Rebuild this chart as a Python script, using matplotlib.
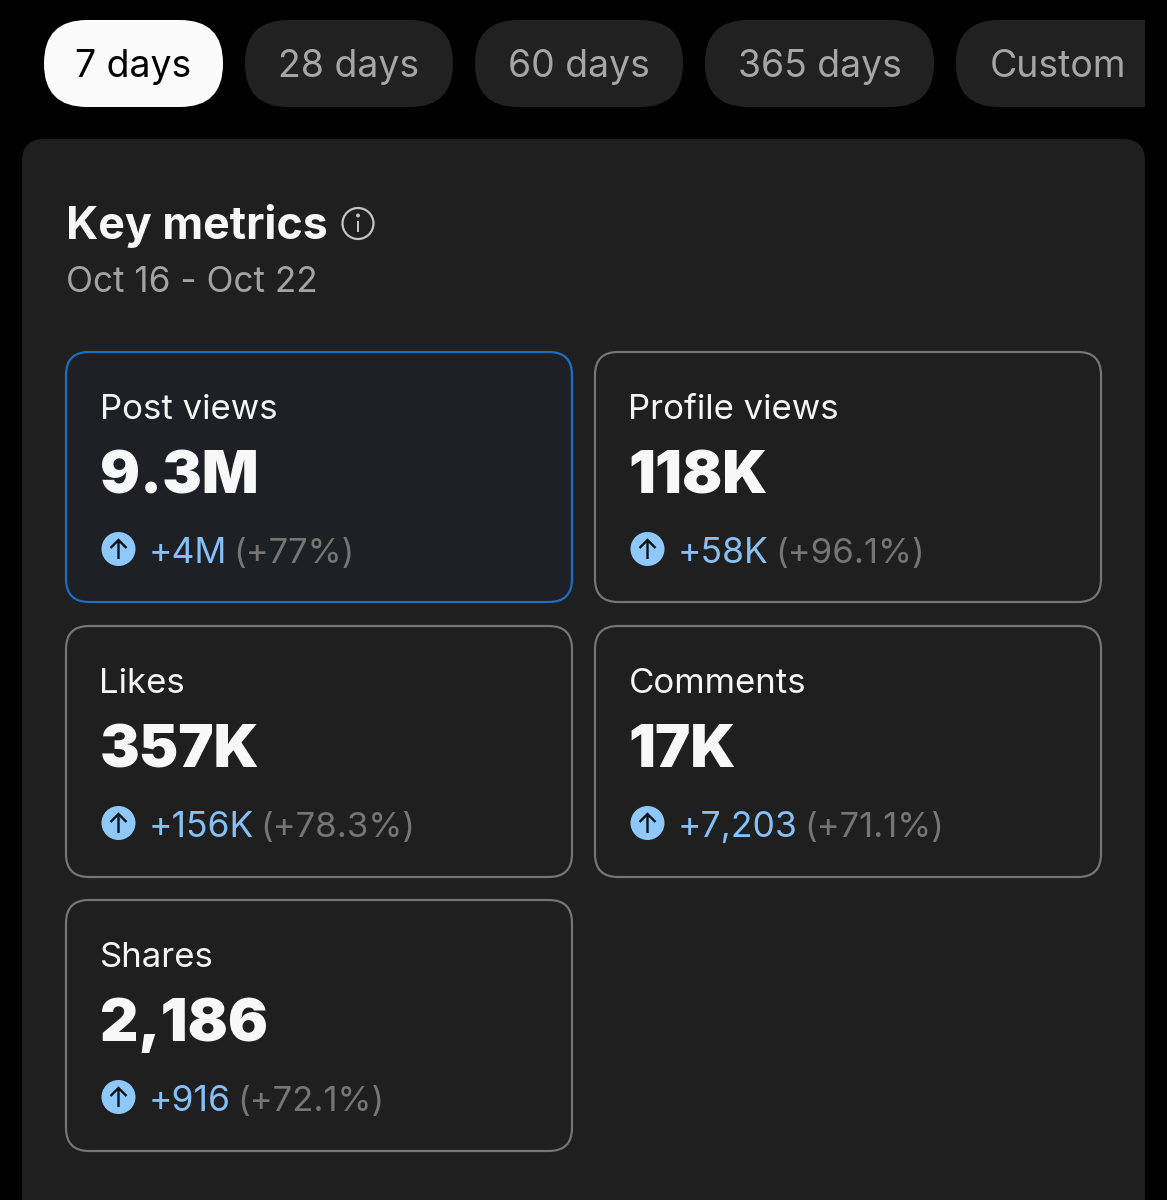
import matplotlib
matplotlib.use("Agg")
import matplotlib.pyplot as plt
from matplotlib.patches import FancyBboxPatch, Circle, Rectangle
from matplotlib.path import Path
from matplotlib.patches import PathPatch

periods = ["7 days", "28 days", "60 days", "365 days", "Custom"]
metric_names = ["Post views", "Profile views", "Likes", "Comments", "Shares"]
metric_values = ["9.3M", "118K", "357K", "17K", "2,186"]
metric_deltas = ["+4M", "+58K", "+156K", "+7,203", "+916"]
metric_pcts = ["(+77%)", "(+96.1%)", "(+78.3%)", "(+71.1%)", "(+72.1%)"]

W, H = 1167, 1200
plt.rcParams['font.family'] = ['Inter', 'DejaVu Sans']
fig = plt.figure(figsize=(W / 100, H / 100), dpi=100, facecolor="#000000")
ax = fig.add_axes([0, 0, 1, 1])
ax.set_xlim(0, W); ax.set_ylim(H, 0); ax.axis("off")
PX = 0.72  # pt per pixel at dpi 100


def rbox(x0, y0, x1, y1, r, fc, ec="none", lw=0, z=1):
    p = FancyBboxPatch((x0 + r, y0 + r), x1 - x0 - 2 * r, y1 - y0 - 2 * r,
                       boxstyle=f"round,pad={r},rounding_size={r}",
                       fc=fc, ec=ec, lw=lw, zorder=z)
    ax.add_patch(p)
    return p


# period pills
pill_x = [(44, 223), (245, 453), (475, 683), (705, 934), (956, 1145)]
pill_text_x = [133, 348.5, 578.5, 820, 1058]
for i, (p, (x0, x1)) in enumerate(zip(periods, pill_x)):
    fc = "#fbfbfb" if i == 0 else "#212121"
    rbox(x0, 20, x1, 107, 43, fc)
    if i == 4:
        ax.add_patch(Rectangle((1060, 20), 85, 87, fc=fc, ec="none", zorder=1))
    ax.text(pill_text_x[i], 77, p, ha="center", va="baseline",
            fontsize=37.4 * PX, color="#000000" if i == 0 else "#a6a6a6", zorder=3)

# main panel
rbox(22, 139, 1145, 1260, 22, "#1f1f1f")
ax.text(65.5, 239, "Key metrics", fontsize=44.7 * PX, fontweight="bold", color="#f7f7f7",
        va="baseline", ha="left", zorder=3)
ax.text(65.5, 292, "Oct 16 - Oct 22", fontsize=35.2 * PX, color="#a3a3a3",
        va="baseline", ha="left", zorder=3)

# info icon
ax.add_patch(Circle((358, 223.5), 15.5, fc="none", ec="#c4c4c4", lw=2.2 * PX, zorder=3))
ax.add_patch(Circle((358, 215.5), 2.0, fc="#c4c4c4", ec="none", zorder=3))
ax.add_patch(Rectangle((356.6, 220.5), 2.8, 11, fc="#c4c4c4", ec="none", zorder=3))

# metric cards
card_x = [(66, 572), (595, 1101)]
card_y = [(352, 602), (626, 877), (900, 1151)]
renderer = fig.canvas.get_renderer()
for i, name in enumerate(metric_names):
    x0, x1 = card_x[i % 2]
    y0, y1 = card_y[i // 2]
    hi = i == 0
    rbox(x0, y0, x1, y1, 23, "#1d2025" if hi else "#1f1f1f",
         ec="#1a6fc4" if hi else "#757575", lw=2.2 * PX, z=2)
    tx = x0 + 33.5
    ax.text(tx, y0 + 67, name, fontsize=34.8 * PX, color="#f5f5f5",
            va="baseline", ha="left", zorder=3)
    ax.text(tx, y0 + 141, metric_values[i], fontsize=59.5 * PX, fontweight=900,
            family="Inter", color="#f8f8f8", va="baseline", ha="left", zorder=3)
    # arrow badge
    cx, cy = x0 + 52.5, y0 + 197
    ax.add_patch(Circle((cx, cy), 17, fc="#8fc8fb", ec="none", zorder=3))
    arrow = Path([(cx, cy + 10), (cx, cy - 9), (cx - 8, cy - 1), (cx, cy - 9), (cx + 8, cy - 1)],
                 [Path.MOVETO, Path.LINETO, Path.MOVETO, Path.LINETO, Path.LINETO])
    ax.add_patch(PathPatch(arrow, fc="none", ec="#0f1419", lw=2.4 * PX, zorder=4))
    d = ax.text(x0 + 83, y0 + 211, metric_deltas[i], fontsize=35.5 * PX, color="#86c0f7",
                va="baseline", ha="left", zorder=3)
    bb = d.get_window_extent(renderer)
    ax.text(bb.x1 + 6, y0 + 211, metric_pcts[i], fontsize=34.7 * PX, color="#757575",
            va="baseline", ha="left", zorder=3)

fig.savefig("out.png", dpi=100, facecolor=fig.get_facecolor())
